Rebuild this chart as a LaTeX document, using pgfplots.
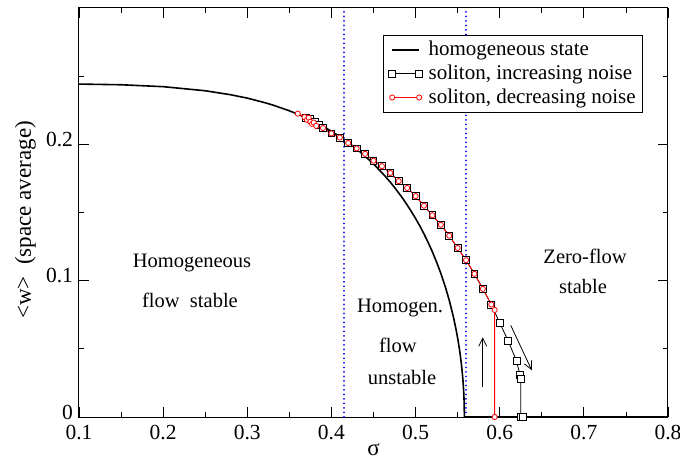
\documentclass[border=0pt]{standalone}
\usepackage{fontspec}
\setmainfont{Liberation Serif}
\usepackage{pgfplots}
\usepackage{pgfplotstable}
\usetikzlibrary{arrows.meta}
\pgfplotsset{compat=1.18}

% homogeneous branch <w>(sigma)
\pgfplotstableread{
s      w
0.10   0.2442
0.15   0.2437
0.20   0.2423
0.25   0.2393
0.28   0.2364
0.30   0.2339
0.32   0.2307
0.33   0.2289
0.35   0.2246
0.36   0.2221
0.37   0.2194
0.38   0.2164
0.39   0.2132
0.40   0.2096
0.41   0.2056
0.42   0.2013
0.43   0.1966
0.44   0.1913
0.45   0.1856
0.46   0.1792
0.465  0.1758
0.47   0.1722
0.475  0.1684
0.48   0.1643
0.485  0.1601
0.49   0.1555
0.495  0.1507
0.50   0.1456
0.505  0.1402
0.51   0.1343
0.515  0.1280
0.52   0.1211
0.525  0.1136
0.53   0.1054
0.535  0.0962
0.54   0.0857
0.545  0.0733
0.548  0.0645
0.55   0.0579
0.552  0.0503
0.553  0.0459
0.554  0.0412
0.555  0.0357
0.556  0.0292
0.5565 0.0253
0.557  0.0207
0.5575 0.0146
0.5578 0.0093
0.558  0.0
0.80   0.0
}\homog

% soliton, increasing noise
\pgfplotstableread{
s      w
0.370  0.2195
0.375  0.2185
0.380  0.2162
0.385  0.2145
0.390  0.2120
0.400  0.2080
0.410  0.2050
0.420  0.2010
0.430  0.1970
0.440  0.1930
0.450  0.1880
0.460  0.1840
0.470  0.1790
0.480  0.1730
0.490  0.1680
0.500  0.1620
0.510  0.1550
0.520  0.1480
0.530  0.1410
0.540  0.1330
0.550  0.1240
0.560  0.1150
0.570  0.1050
0.580  0.0940
0.590  0.0825
0.600  0.0690
0.610  0.0560
0.620  0.0410
0.624  0.0310
0.625  0.0280
0.625  0.0000
0.628  0.0000
}\solinc

% soliton, decreasing noise
\pgfplotstableread{
s      w
0.360  0.2225
0.368  0.2200
0.371  0.2180
0.373  0.2195
0.375  0.2165
0.377  0.2150
0.379  0.2160
0.382  0.2135
0.390  0.2120
0.400  0.2080
0.410  0.2050
0.420  0.2010
0.430  0.1970
0.440  0.1930
0.450  0.1880
0.460  0.1840
0.470  0.1790
0.480  0.1730
0.490  0.1680
0.500  0.1620
0.510  0.1550
0.520  0.1480
0.530  0.1410
0.540  0.1330
0.550  0.1240
0.560  0.1150
0.570  0.1050
0.580  0.0940
0.590  0.0825
0.594  0.0785
0.594  0.0000
}\soldec

\begin{document}
\fontsize{20.5bp}{24.6bp}\selectfont
\begin{tikzpicture}
\begin{axis}[
  scale only axis, width=589bp, height=409bp,
  xmin=0.1, xmax=0.8, ymin=0, ymax=0.3,
  xtick={0.1,0.2,0.3,0.4,0.5,0.6,0.7,0.8},
  xticklabels={0.1,0.2,0.3,0.4,0.5,0.6,0.7,0.8},
  minor xtick={0.15,0.25,0.35,0.45,0.55,0.65,0.75},
  ytick={0,0.1,0.2}, yticklabels={0,0.1,0.2},
  minor ytick={0.05,0.15,0.25},
  tick align=inside,
  major tick length=10bp, minor tick length=5bp,
  tick style={line width=0.8bp, black},
  axis line style={line width=1bp},
  ticklabel style={font=\fontsize{21.5bp}{24bp}\selectfont},
  yticklabel style={yshift=5bp, xshift=1bp},
  xticklabel style={yshift=-1bp},
  xlabel={σ},
  xlabel style={at={(axis description cs:0.5,0)}, anchor=base, yshift=-38bp,
    font=\fontsize{23bp}{27bp}\selectfont},
  ylabel={<w>\ \ (space average)},
  ylabel style={at={(axis description cs:-0.0815,0.4817)}, anchor=base,
    font=\fontsize{23bp}{27bp}\selectfont},
  legend cell align=left,
  legend style={at={(0.9576,0.934)}, anchor=north east, draw=black,
    line width=0.8bp, fill=white, inner xsep=5bp, inner ysep=5bp,
    column sep=4bp, row sep=4bp,
    font=\fontsize{21bp}{24bp}\selectfont,
    nodes={inner xsep=2bp, inner ysep=1bp}},
  legend image code/.code={\draw[#1] plot coordinates {(0bp,0bp) (27bp,0bp)};},
]
% stability boundaries
\addplot[forget plot, blue, line width=1.8bp, line cap=round, dash pattern=on 0.1bp off 4.4bp]
  coordinates {(0.415,0) (0.415,0.3)};
\addplot[forget plot, blue, line width=1.8bp, line cap=round, dash pattern=on 0.1bp off 4.4bp]
  coordinates {(0.56,0) (0.56,0.3)};

\addplot[black, line width=1.6bp] table[x=s, y=w] {\homog};
\addlegendentry{homogeneous state}
\addplot[black, line width=0.8bp, mark=square*, mark size=3.4bp,
  mark options={fill=white, draw=black, line width=0.8bp}] table[x=s, y=w] {\solinc};
\addlegendentry{soliton, increasing noise}
\addplot[red, line width=0.9bp, mark=*, mark size=2.6bp,
  mark options={fill=white, draw=red, line width=0.8bp}] table[x=s, y=w] {\soldec};
\addlegendentry{soliton, decreasing noise}

\node at (axis cs:0.2343,0.1131) {Homogeneous};
\node at (axis cs:0.2319,0.0854) {flow\ \ stable};
\node at (axis cs:0.4815,0.0796) {Homogen.};
\node at (axis cs:0.4790,0.0526) {flow};
\node at (axis cs:0.4839,0.0292) {unstable};
\node at (axis cs:0.7014,0.1175) {Zero-flow};
\node at (axis cs:0.6990,0.0956) {stable};

\draw[-{Straight Barb[length=8bp,width=8bp]}, line width=0.8bp]
  (axis cs:0.5798,0.0219) -- (axis cs:0.5798,0.0584);
\draw[-{Straight Barb[length=8bp,width=8bp]}, line width=0.8bp]
  (axis cs:0.6131,0.0672) -- (axis cs:0.6381,0.0343);
\end{axis}
\pgfresetboundingbox
\path[use as bounding box] (current axis.south west) ++(-79bp,-42bp) rectangle ++(680bp,459bp);
\end{tikzpicture}
\end{document}
